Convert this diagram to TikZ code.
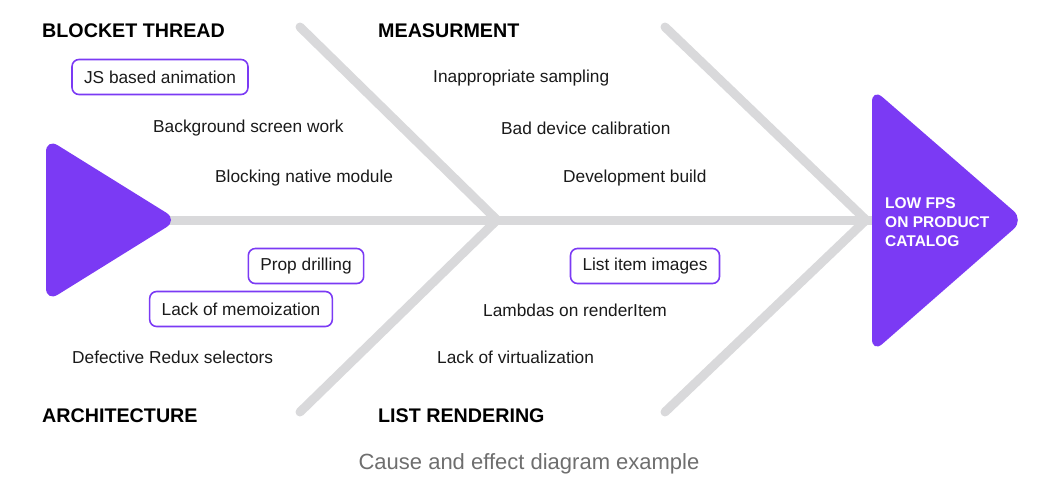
\documentclass[tikz,border=0pt]{standalone}
\usepackage{fontspec}
\setmainfont{Liberation Sans}
\definecolor{purp}{HTML}{7B3AF4}
\definecolor{bone}{HTML}{D9D9DB}
\definecolor{capgray}{HTML}{6E6E6E}
\definecolor{ink}{HTML}{1A1A1A}
\begin{document}
\begin{tikzpicture}[x=1pt,y=-1pt,
  bonestyle/.style={draw=bone, line width=9pt, line cap=round},
  title/.style={font=\fontsize{19.7}{22}\selectfont\bfseries, anchor=west, inner sep=0pt, text=black},
  cause/.style={font=\fontsize{17.3}{20}\selectfont, anchor=west, inner sep=0pt, text=ink},
  causebox/.style={cause, anchor=center, draw=purp, line width=1.6pt, rounded corners=7pt, inner xsep=12pt, minimum height=35pt},
  head/.style={fill=purp, rounded corners=14pt}]
\useasboundingbox (0,0) rectangle (1062,499);

% spine and bones
\coordinate (tail) at (170,220);
\coordinate (headin) at (872,220);
\coordinate (j1) at (497,220);
\coordinate (j2) at (866,220);
\coordinate (b1) at (300,27);
\coordinate (b2) at (300,412);
\coordinate (b3) at (665,27);
\coordinate (b4) at (665,412);
\draw[bonestyle] (tail) -- (headin);
\draw[bonestyle] (b1) -- (j1) -- (b2);
\draw[bonestyle] (b3) -- (j2) -- (b4);

% tail and head
\fill[head] (46,138) -- (178,220) -- (46,302) -- cycle;
\fill[head] (872,88) -- (1024,220) -- (872,353) -- cycle;
\node[anchor=west, align=left, inner sep=0pt, text=white,
      font=\fontsize{15.5}{19}\selectfont\bfseries] (effect) at (885,222)
      {LOW FPS\\ON PRODUCT\\CATALOG};

% category titles
\node[title] (t1) at (42,31) {BLOCKET THREAD};
\node[title] (t2) at (378,31) {MEASURMENT};
\node[title] (t3) at (42,416) {ARCHITECTURE};
\node[title] (t4) at (378,416) {LIST RENDERING};

% causes
\node[causebox] (c1) at (160,77) {JS based animation};
\node[cause] (c2) at (153,128) {Background screen work};
\node[cause] (c3) at (215,178) {Blocking native module};
\node[cause] (c4) at (433,78) {Inappropriate sampling};
\node[cause] (c5) at (501,128) {Bad device calibration};
\node[cause] (c6) at (563,178) {Development build};
\node[causebox] (c7) at (306,266) {Prop drilling};
\node[causebox] (c8) at (241,309) {Lack of memoization};
\node[cause] (c9) at (72,357) {Defective Redux selectors};
\node[causebox] (c10) at (645,266) {List item images};
\node[cause] (c11) at (483,310) {Lambdas on renderItem};
\node[cause] (c12) at (437,357) {Lack of virtualization};

% caption
\node[font=\fontsize{22}{26}\selectfont, text=capgray, inner sep=0pt] (cap) at (529,464) {Cause and effect diagram example};
\end{tikzpicture}
\end{document}
